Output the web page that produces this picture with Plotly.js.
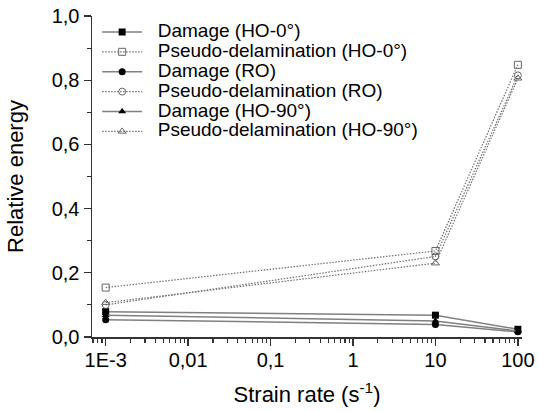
<!DOCTYPE html>
<html>
<head>
<meta charset="utf-8">
<script src="https://cdn.plot.ly/plotly-3.0.1.min.js"></script>
<style>html,body{margin:0;padding:0;background:#fff;}#chart{width:539px;height:411px;}</style>
</head>
<body>
<div id="chart"></div>
<script>
// Data
const strainRate = [0.001, 10, 100];
const damageHO0 = [0.079, 0.068, 0.024];
const pseudoHO0 = [0.154, 0.268, 0.848];
const damageRO = [0.054, 0.039, 0.016];
const pseudoRO = [0.100, 0.251, 0.815];
const damageHO90 = [0.068, 0.050, 0.019];
const pseudoHO90 = [0.107, 0.230, 0.806];

const seriesNames = [
  'Damage (HO-0°)', 'Pseudo-delamination (HO-0°)',
  'Damage (RO)', 'Pseudo-delamination (RO)',
  'Damage (HO-90°)', 'Pseudo-delamination (HO-90°)'
];
const xTickVals = [0.001, 0.01, 0.1, 1, 10, 100];
const xTickText = ['1E-3', '0,01', '0,1', '1', '10', '100'];

const minorVals = [];
for (let e = -4; e <= 2; e++) {
  for (let m = 2; m <= 9; m++) minorVals.push(m * Math.pow(10, e));
}

const lineGrey = '#808080';
const dotGrey = '#707070';
function lbl(t) { return '<span style="font-size:19px">\u00a0\u00a0' + t + '</span>'; }

function dmg(y, name, symbol) {
  return {x: strainRate, y: y, name: lbl(name), type: 'scatter', mode: 'lines+markers',
    line: {color: lineGrey, width: 1.5},
    marker: {symbol: symbol, size: 7, color: '#000', line: {width: 0}}};
}
function pse(y, name, symbol) {
  return {x: strainRate, y: y, name: lbl(name), type: 'scatter', mode: 'lines+markers',
    line: {color: dotGrey, width: 1.2, dash: '1.5px,1.5px'},
    marker: {symbol: symbol, size: 7, color: '#666', line: {width: 1, color: '#666'}}};
}

const data = [
  dmg(damageHO0, seriesNames[0], 'square'),
  pse(pseudoHO0, seriesNames[1], 'square-open'),
  dmg(damageRO, seriesNames[2], 'circle'),
  pse(pseudoRO, seriesNames[3], 'circle-open'),
  dmg(damageHO90, seriesNames[4], 'triangle-up'),
  pse(pseudoHO90, seriesNames[5], 'triangle-up-open')
];

const font = {family: 'Liberation Sans, Arial, sans-serif', color: '#000'};

const layout = {
  width: 539, height: 411,
  margin: {l: 92, r: 17, t: 15.5, b: 73.5},
  paper_bgcolor: '#fff', plot_bgcolor: '#fff',
  separators: ',.',
  font: font,
  showlegend: true,
  legend: {x: 0.012, y: 0.997, xanchor: 'left', yanchor: 'top', bgcolor: 'rgba(0,0,0,0)',
    font: {family: font.family, size: 13.0, color: '#000'}, itemwidth: 40, tracegroupgap: 0},
  xaxis: {
    type: 'log', range: [-3.166, 2.05],
    tickmode: 'array', tickvals: xTickVals, ticktext: xTickText,
    ticks: 'outside', ticklen: 7, tickwidth: 1.3, tickcolor: '#333',
    ticklabelstandoff: -3,
    showline: true, linecolor: '#333', linewidth: 1.5,
    showgrid: false, zeroline: false,
    tickfont: {family: font.family, size: 20, color: '#000'},
    minor: {tickmode: 'array', tickvals: minorVals, ticks: 'outside', ticklen: 4, tickwidth: 1.2, tickcolor: '#333', showgrid: false},
    title: {text: 'Strain rate (s<sup>-1</sup>)', font: {family: font.family, size: 22, color: '#000'}, standoff: 17}
  },
  yaxis: {
    range: [0, 1], tickmode: 'linear', tick0: 0, dtick: 0.2, tickformat: '.1f',
    ticks: 'outside', ticklen: 7, tickwidth: 1.3, tickcolor: '#333',
    showline: true, linecolor: '#333', linewidth: 1.5,
    showgrid: false, zeroline: false,
    tickfont: {family: font.family, size: 20, color: '#000'},
    minor: {dtick: 0.1, ticks: 'outside', ticklen: 4, tickwidth: 1.2, tickcolor: '#333', showgrid: false},
    title: {text: 'Relative energy', font: {family: font.family, size: 22, color: '#000'}, standoff: 22}
  }
};

Plotly.newPlot('chart', data, layout, {displayModeBar: false, staticPlot: true});
</script>
</body>
</html>
